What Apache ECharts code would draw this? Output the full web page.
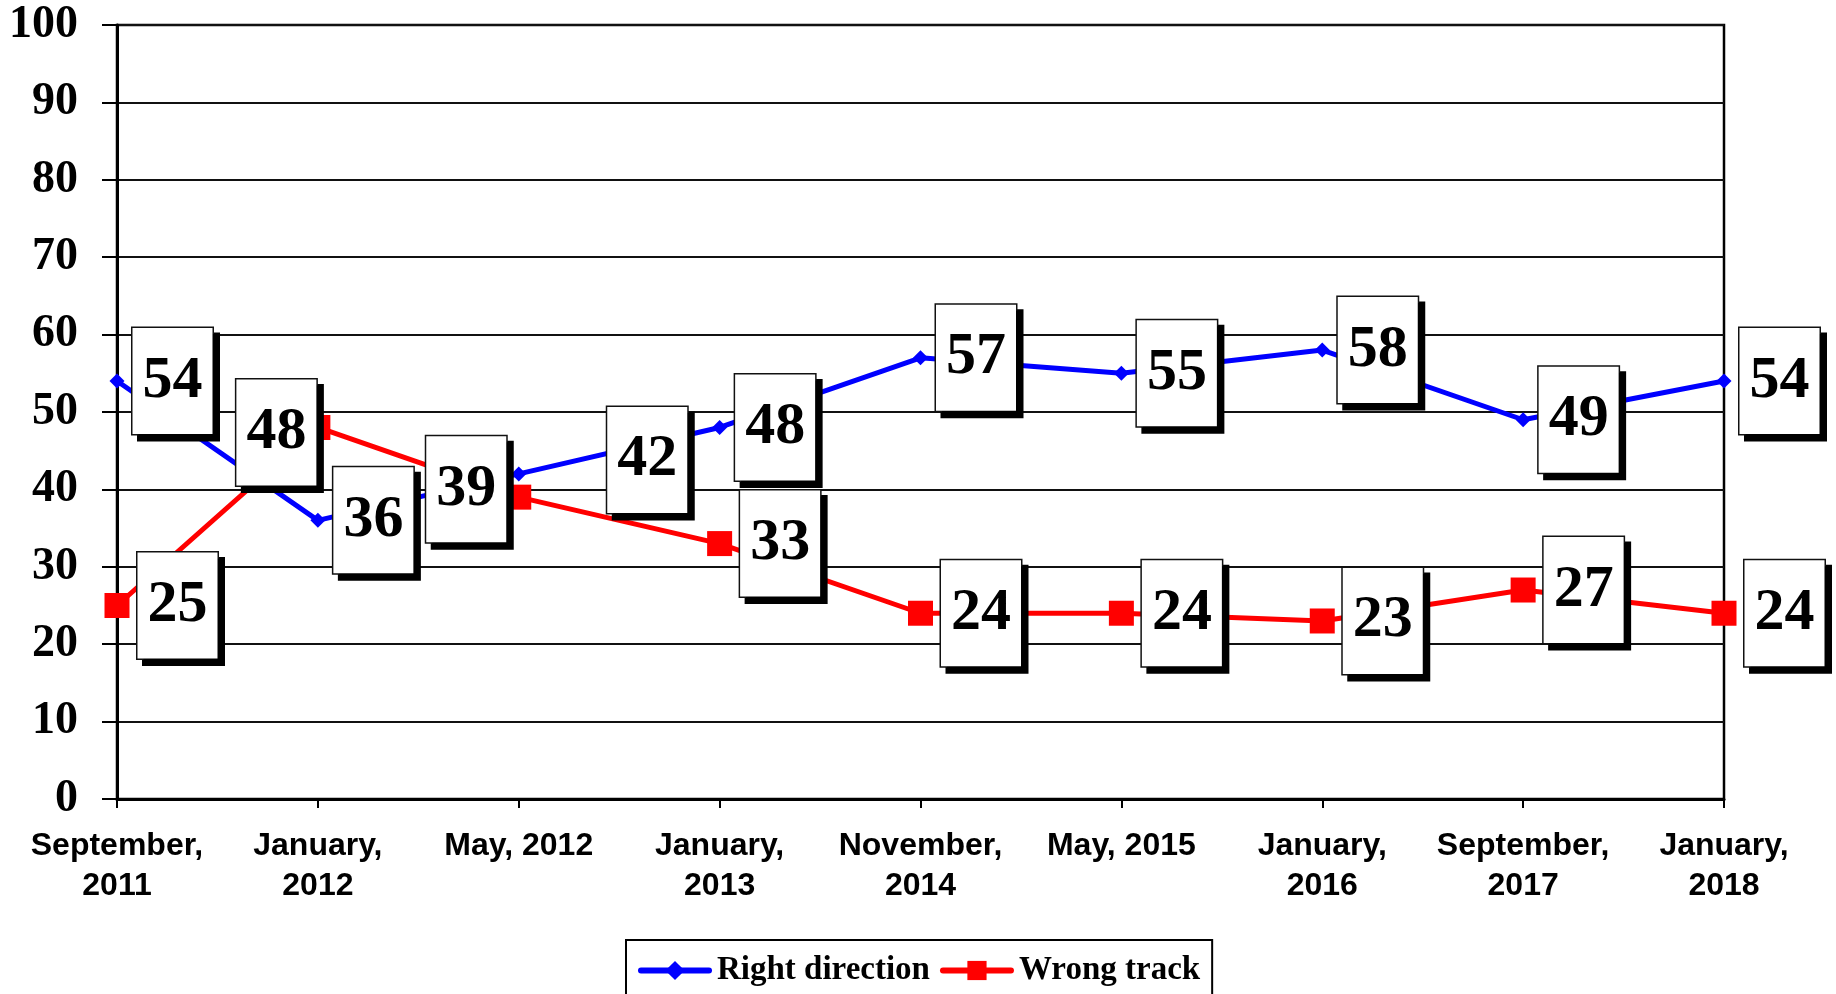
<!DOCTYPE html>
<html>
<head>
<meta charset="utf-8">
<script src="https://cdn.jsdelivr.net/npm/echarts@6/dist/echarts.min.js"></script>
<style>
  html, body { margin: 0; padding: 0; background: #fff; }
  #chart { width: 1836px; height: 994px; }
</style>
</head>
<body>
<div id="chart"></div>
<script>
const categories = ['September,\n2011', 'January,\n2012', 'May, 2012', 'January,\n2013', 'November,\n2014', 'May, 2015', 'January,\n2016', 'September,\n2017', 'January,\n2018'];
const rightDirection = [54, 36, 42, 48, 57, 55, 58, 49, 54];
const wrongTrack = [25, 48, 39, 33, 24, 24, 23, 27, 24];
const yTicks = [0, 10, 20, 30, 40, 50, 60, 70, 80, 90, 100];

// label placement tweaks (style only)
const blueLabelTweaks = { 2: { offset: [73, -14] } };
const redLabelTweaks = { 1: { position: 'left', distance: -11, offset: [0, 5] }, 2: { position: 'left', distance: 0, offset: [0, -8] } };

function withLabels(values, tweaks) {
  return values.map((v, i) => tweaks[i] ? { value: v, label: tweaks[i] } : v);
}

const labelBox = {
  show: true,
  position: 'right',
  distance: 8,
  fontFamily: 'Liberation Serif',
  fontWeight: 'bold',
  fontSize: 60,
  lineHeight: 66,
  color: '#000',
  backgroundColor: '#fff',
  borderColor: '#111',
  borderWidth: 1.5,
  padding: [20, 10, 20, 10],
  shadowColor: '#000',
  shadowBlur: 0,
  shadowOffsetX: 6,
  shadowOffsetY: 6
};

const chart = echarts.init(document.getElementById('chart'), null, { renderer: 'canvas' });
chart.setOption({
  animation: false,
  backgroundColor: '#fff',
  grid: { left: 117, right: 112, top: 25, bottom: 195, show: true, borderColor: '#000', borderWidth: 2.5, backgroundColor: 'transparent' },
  legend: {
    left: 626,
    top: 940,
    padding: [14, 12, 14, 12],
    borderColor: '#000',
    borderWidth: 2,
    itemWidth: 68,
    itemHeight: 24,
    itemGap: 10,
    lineStyle: { width: 6, cap: 'round' },
    textStyle: { fontFamily: 'Liberation Serif', fontWeight: 'bold', fontSize: 33, color: '#000', padding: [0, 0, 0, 3] },
    data: ['Right direction', 'Wrong track']
  },
  xAxis: {
    type: 'category',
    data: categories,
    boundaryGap: false,
    axisLine: { show: true, lineStyle: { color: '#000', width: 3 } },
    axisTick: { show: true, inside: false, length: 9, alignWithLabel: true, lineStyle: { color: '#000', width: 2 } },
    axisLabel: { interval: 0, margin: 27, fontFamily: 'Liberation Sans', fontWeight: 'bold', fontSize: 32, lineHeight: 40, color: '#000' },
    splitLine: { show: false }
  },
  yAxis: {
    type: 'value',
    min: yTicks[0],
    max: yTicks[yTicks.length - 1],
    interval: yTicks[1] - yTicks[0],
    axisLine: { show: true, lineStyle: { color: '#000', width: 3 } },
    axisTick: { show: true, length: 15, lineStyle: { color: '#000', width: 2 } },
    axisLabel: { margin: 39, fontFamily: 'Liberation Serif', fontWeight: 'bold', fontSize: 46, color: '#000' },
    splitLine: { show: true, lineStyle: { color: '#111', width: 2 } }
  },
  series: [
    {
      name: 'Right direction',
      type: 'line',
      data: withLabels(rightDirection, blueLabelTweaks),
      symbol: 'diamond',
      symbolSize: 15,
      showAllSymbol: true,
      lineStyle: { color: '#0000FF', width: 5 },
      itemStyle: { color: '#0000FF' },
      label: labelBox,
      z: 2
    },
    {
      name: 'Wrong track',
      type: 'line',
      data: withLabels(wrongTrack, redLabelTweaks),
      symbol: 'rect',
      symbolSize: 25,
      showAllSymbol: true,
      lineStyle: { color: '#FF0000', width: 5 },
      itemStyle: { color: '#FF0000' },
      label: labelBox,
      z: 2
    }
  ]
});
</script>
</body>
</html>
